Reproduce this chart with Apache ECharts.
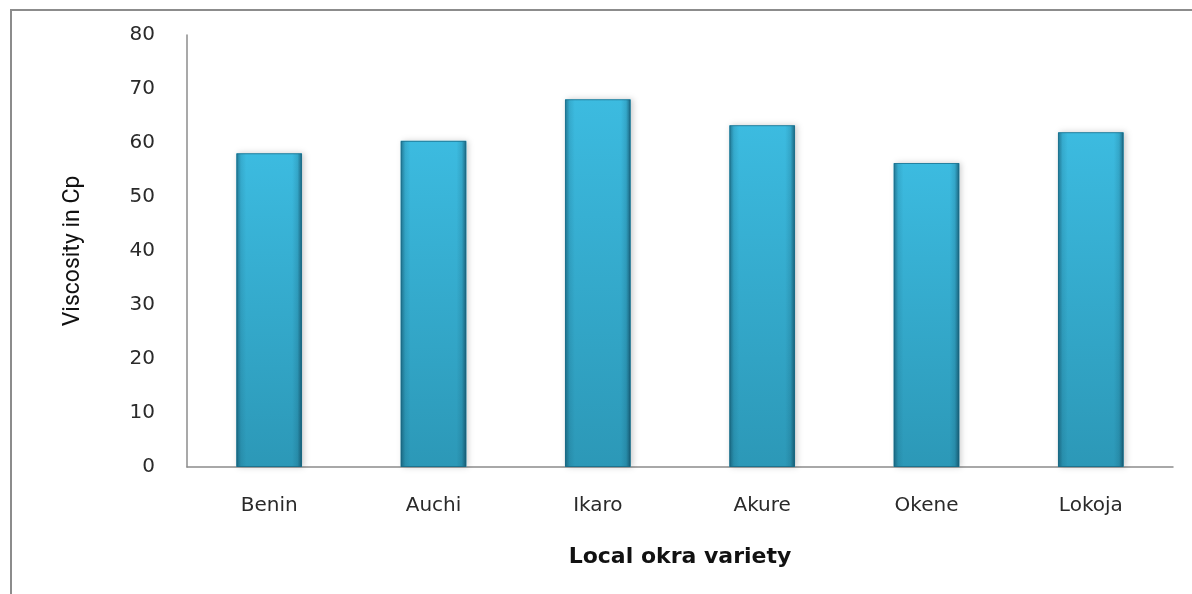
<!DOCTYPE html>
<html>
<head>
<meta charset="utf-8">
<script src="https://cdn.jsdelivr.net/npm/echarts@6/dist/echarts.min.js"></script>
<style>
	html, body {margin: 0; padding: 0; background: #fff;}
	#frame {position: absolute; left: 10px; top: 9px; width: 1182px; height: 585px; border-left: 2px solid #8c8c8c; border-top: 2px solid #8c8c8c;}
	#chart {position: absolute; left: 0; top: 0; width: 1192px; height: 594px;}
</style>
</head>
<body>
<div id="frame"></div>
<div id="chart"></div>
<script>
	var varieties = ['Benin', 'Auchi', 'Ikaro', 'Akure', 'Okene', 'Lokoja'];
	var viscosity = [58.1, 60.4, 68.1, 63.3, 56.3, 62.0];

	// body of the bar: lighter at top, a bit darker at the base
	var barFill = new echarts.graphic.LinearGradient(0, 0, 0, 1, [
		{offset: 0, color: '#3cbbe0'},
		{offset: 1, color: '#2c98b7'}
	]);
	// bevel shading on the sides
	var edgeShade = new echarts.graphic.LinearGradient(0, 0, 1, 0, [
		{offset: 0, color: 'rgba(10,60,80,0.55)'},
		{offset: 0.07, color: 'rgba(10,60,80,0.12)'},
		{offset: 0.15, color: 'rgba(10,60,80,0)'},
		{offset: 0.85, color: 'rgba(10,60,80,0)'},
		{offset: 0.93, color: 'rgba(10,60,80,0.15)'},
		{offset: 1, color: 'rgba(10,50,70,0.65)'}
	]);

	var chart = echarts.init(document.getElementById('chart'));
	chart.setOption({
		animation: false,
		grid: {left: 187, right: 19, top: 35, bottom: 127},
		xAxis: {
			type: 'category',
			data: varieties,
			name: 'Local okra variety',
			nameLocation: 'middle',
			nameGap: 79,
			nameTextStyle: {fontFamily: 'DejaVu Sans', fontWeight: 'bold', fontSize: 22, color: '#111'},
			axisLine: {lineStyle: {color: '#8c8c8c', width: 1.5}},
			axisTick: {show: false},
			axisLabel: {fontFamily: 'DejaVu Sans', fontSize: 20, color: '#2a2a2a', margin: 29}
		},
		yAxis: {
			type: 'value',
			min: 0, max: 80, interval: 10,
			name: 'Viscosity in Cp',
			nameLocation: 'middle',
			nameGap: 102,
			nameTextStyle: {fontFamily: 'Roboto', fontSize: 23, color: '#111'},
			axisLine: {show: true, lineStyle: {color: '#8c8c8c', width: 1.5}},
			axisTick: {show: false},
			splitLine: {show: false},
			axisLabel: {fontFamily: 'DejaVu Sans', fontSize: 20, color: '#2a2a2a', margin: 32}
		},
		series: [{
			type: 'bar',
			data: viscosity,
			barWidth: '40%',
			itemStyle: {
				color: barFill,
				shadowColor: 'rgba(0,0,0,0.2)',
				shadowBlur: 6,
				shadowOffsetX: 2
			}
		}, {
			type: 'bar',
			data: viscosity,
			barWidth: '40%',
			barGap: '-100%',
			silent: true,
			itemStyle: {color: edgeShade, borderColor: 'rgba(20,90,115,0.6)', borderWidth: 1}
		}]
	});
</script>
</body>
</html>
